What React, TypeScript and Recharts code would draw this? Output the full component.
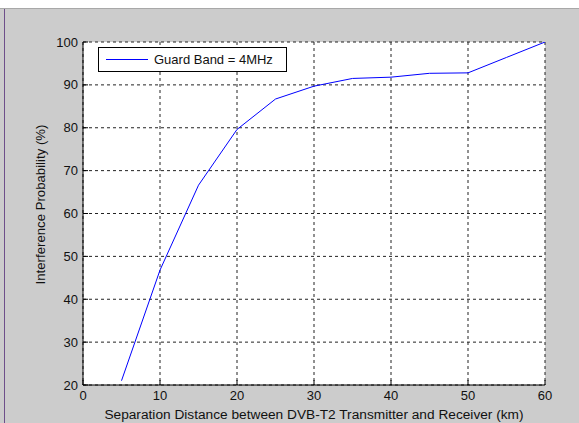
import { CartesianGrid, Legend, Line, LineChart, XAxis, YAxis } from "recharts";

const distanceKm = [5, 10, 15, 20, 25, 30, 35, 40, 45, 50, 55, 60];
const interferencePct = [21, 46.8, 66.6, 79.6, 86.7, 89.7, 91.5, 91.8, 92.7, 92.8, 96.4, 100];
const xTicks = [0, 10, 20, 30, 40, 50, 60];
const yTicks = [20, 30, 40, 50, 60, 70, 80, 90, 100];
const seriesName = "Guard Band = 4MHz";

const data = distanceKm.map((d, i) => ({ d, p: interferencePct[i] }));

const tickStyle = { fontSize: 13, fill: "#111" };

function LegendBox() {
  return (
    <div
      style={{
        width: 187,
        height: 23,
        border: "1px solid #000",
        background: "#fff",
        display: "flex",
        alignItems: "center",
        fontSize: 13,
        color: "#111",
      }}
    >
      <span style={{ display: "inline-block", width: 42, height: 1, background: "#0000ff", marginLeft: 7, marginRight: 6 }} />
      <span>{seriesName}</span>
    </div>
  );
}

export default function App() {
  return (
    <div
      style={{
        position: "fixed",
        left: 0,
        top: 0,
        width: 579,
        height: 423,
        background: "#cccccc",
        fontFamily: "'Liberation Sans', Arial, sans-serif",
        overflow: "hidden",
      }}
    >
      <div style={{ position: "absolute", left: 0, top: 0, width: 579, height: 8, background: "#fff", borderBottom: "1px solid #a8a8a8" }} />
      <div style={{ position: "absolute", left: 4, top: 9, width: 1, height: 414, background: "#6e4f8a" }} />
      <div style={{ position: "absolute", left: 0, top: 0 }}>
        <LineChart width={579} height={423} data={data} margin={{ top: 42, right: 34, bottom: 2, left: 33 }}>
          <CartesianGrid
            xAxisId="bottom"
            yAxisId="left"
            fill="#fff"
            stroke="#222"
            strokeDasharray="3 3"
            horizontalValues={yTicks}
            verticalValues={xTicks}
          />
          <XAxis
            xAxisId="bottom"
            dataKey="d"
            type="number"
            domain={[0, 60]}
            ticks={xTicks}
            allowDataOverflow
            height={36}
            stroke="#000"
            tickSize={-5}
            tickMargin={11}
            tick={tickStyle}
            label={{
              value: "Separation Distance between DVB-T2 Transmitter and Receiver (km)",
              position: "insideBottom",
              offset: 2,
              style: { fontSize: 13.7, fill: "#111" },
            }}
          />
          <XAxis
            xAxisId="top"
            orientation="top"
            dataKey="d"
            type="number"
            domain={[0, 60]}
            ticks={xTicks}
            height={0}
            stroke="#000"
            tickSize={-5}
            tick={false}
          />
          <YAxis
            yAxisId="left"
            type="number"
            domain={[20, 100]}
            ticks={yTicks}
            allowDataOverflow
            width={50}
            stroke="#000"
            tickSize={-5}
            tickMargin={10}
            tick={tickStyle}
            label={{
              value: "Interference Probability (%)",
              angle: -90,
              position: "insideLeft",
              offset: 7,
              dy: -9,
              style: { fontSize: 13.2, fill: "#111", textAnchor: "middle" },
            }}
          />
          <YAxis
            yAxisId="right"
            orientation="right"
            type="number"
            domain={[20, 100]}
            ticks={yTicks}
            width={0}
            stroke="#000"
            tickSize={-5}
            tick={false}
          />
          <Legend
            layout="horizontal"
            verticalAlign="middle"
            wrapperStyle={{ position: "absolute", left: 98, top: 47, width: "auto" }}
            content={() => <LegendBox />}
          />
          <Line
            xAxisId="bottom"
            yAxisId="left"
            type="linear"
            dataKey="p"
            name={seriesName}
            stroke="#0000ff"
            strokeWidth={1}
            dot={false}
            isAnimationActive={false}
          />
        </LineChart>
      </div>
    </div>
  );
}
